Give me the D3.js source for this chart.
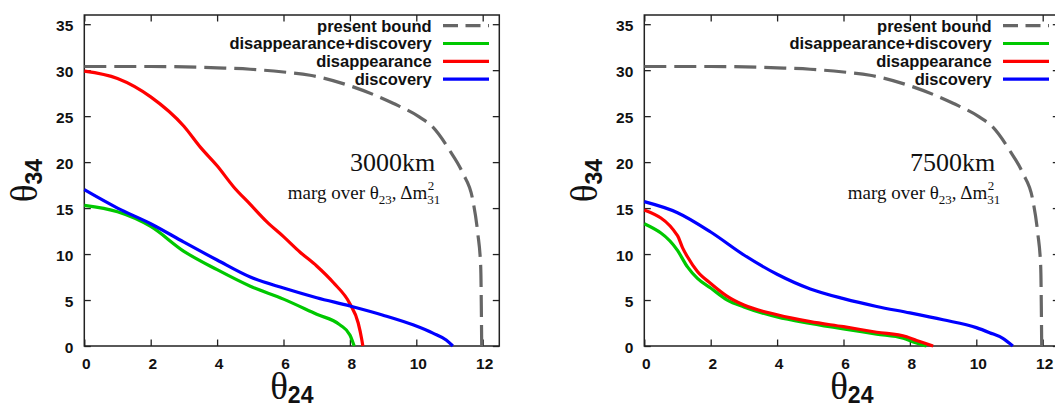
<!DOCTYPE html>
<html>
<head>
<meta charset="utf-8">
<script src="https://cdn.jsdelivr.net/npm/d3@7"></script>
<style>
  html, body { margin: 0; padding: 0; background: #fff; }
  svg { display: block; }
</style>
</head>
<body>
<svg id="chart" width="1055" height="405"></svg>
<script>
// ---------------- DATA ----------------
const xTicks = [0, 2, 4, 6, 8, 10, 12];
const yTicks = [0, 5, 10, 15, 20, 25, 30, 35];
const legendLabels = ["present bound", "disappearance+discovery", "disappearance", "discovery"];
const panelTitles = ["3000km", "7500km"];

// present bound (same in both panels): [theta24, theta34]
const presentBound = [[0,30.4],[2,30.4],[4,30.25],[5,30.1],[6,29.8],[6.8,29.45],[8,28.3],[9.3,26.4],[10.1,24.9],[10.5,23.8],[11.0,21.3],[11.4,18.8],[11.7,15.9],[11.85,12.3],[11.94,8.6],[11.97,0]];

// 3000 km
const combined3000 = [[0,15.3],[1,14.6],[2,13.0],[3,10.3],[4,8.3],[5,6.5],[6,5.1],[7,3.45],[7.7,2.3],[8.0,1.2],[8.1,0.3],[8.13,0]];
const disapp3000 = [[0,29.9],[1,29.1],[2,27.1],[3,23.9],[3.5,21.6],[4,19.6],[4.5,17.3],[5,15.4],[5.5,13.5],[6,11.9],[6.5,10.2],[7,8.7],[7.5,6.9],[8,4.6],[8.25,2.5],[8.36,0.65],[8.39,0]];
const disc3000 = [[0,17.0],[1,15.0],[2,13.3],[3,11.3],[4,9.35],[5,7.5],[6,6.3],[7,5.25],[8,4.35],[9,3.35],[9.9,2.3],[10.5,1.4],[10.9,0.65],[11.1,0]];

// 7500 km
const combined7500 = [[0,13.3],[1,10.4],[1.3,8.6],[1.6,7.35],[2,6.3],[2.5,5.0],[3,4.25],[4,3.15],[5,2.45],[6,1.85],[7,1.3],[7.8,0.85],[8.1,0.45],[8.5,0]];
const disapp7500 = [[0,14.8],[1,12.0],[1.15,10.7],[1.3,9.7],[1.6,8.1],[2,6.8],[2.5,5.4],[3,4.45],[4,3.4],[5,2.65],[6,2.1],[7,1.5],[7.9,1.0],[8.2,0.6],[8.7,0]];
const disc7500 = [[0,15.7],[1,14.5],[2,12.4],[3,9.9],[4,7.8],[5,6.2],[6,5.15],[7,4.3],[8,3.6],[9,2.85],[10,2.0],[10.4,1.45],[10.8,0.83],[11.1,0]];

// ---------------- STYLE ----------------
const colBound = "#666666", colGreen = "#00c800", colRed = "#ff0000", colBlue = "#0000ff";
const sansBold = "'Liberation Sans', Arial, Helvetica, sans-serif";
const serif = "'Liberation Serif', 'Times New Roman', serif";

const svg = d3.select("#chart");
svg.append("rect").attr("width", 1055).attr("height", 405).attr("fill", "#fff");

const panels = [
  { left: 84.3, title: panelTitles[0], series: [combined3000, disapp3000, disc3000] },
  { left: 644.3, title: panelTitles[1], series: [combined7500, disapp7500, disc7500] }
];
const plotW = 415, plotTop = 15, plotBottom = 346;

panels.forEach(p => {
  const x = d3.scaleLinear().domain([0, 12.5]).range([p.left, p.left + plotW]);
  const y = d3.scaleLinear().domain([0, 36]).range([plotBottom, plotTop]);
  const g = svg.append("g");

  // frame
  g.append("rect")
    .attr("x", x(0)).attr("y", y(36))
    .attr("width", x(12.5) - x(0)).attr("height", y(0) - y(36))
    .attr("fill", "none").attr("stroke", "#222").attr("stroke-width", 1.5);

  // axes with inward ticks
  const tl = 6.5;
  const xb = g.append("g").attr("transform", `translate(0,${plotBottom})`)
    .call(d3.axisBottom(x).tickValues(xTicks).tickSize(-tl).tickPadding(12));
  const xt = g.append("g").attr("transform", `translate(0,${plotTop})`)
    .call(d3.axisTop(x).tickValues(xTicks).tickSize(-tl).tickFormat(""));
  const yl = g.append("g").attr("transform", `translate(${p.left},0)`)
    .call(d3.axisLeft(y).tickValues(yTicks).tickSize(-tl).tickPadding(11));
  const yr = g.append("g").attr("transform", `translate(${p.left + plotW},0)`)
    .call(d3.axisRight(y).tickValues(yTicks).tickSize(-tl).tickFormat(""));
  [xb, xt, yl, yr].forEach(a => {
    a.select(".domain").remove();
    a.selectAll(".tick line").attr("stroke", "#222").attr("stroke-width", 1.3);
  });
  [xb, yl].forEach(a => a.selectAll(".tick text")
    .attr("font-family", sansBold).attr("font-weight", "bold")
    .attr("font-size", 15.5).attr("fill", "#111"));
  xb.selectAll(".tick text").attr("dx", 1.5);
  yl.selectAll(".tick text").attr("dy", "0.40em");

  const line = d3.line().curve(d3.curveMonotoneX).x(d => x(d[0])).y(d => y(d[1]));

  // present bound
  g.append("path").datum(presentBound).attr("d", line)
    .attr("fill", "none").attr("stroke", colBound).attr("stroke-width", 3.2)
    .attr("stroke-dasharray", "22,8");
  const cols = [colGreen, colRed, colBlue];
  p.series.forEach((s, i) => {
    g.append("path").datum(s).attr("d", line)
      .attr("fill", "none").attr("stroke", cols[i]).attr("stroke-width", 3.2)
      .attr("stroke-linejoin", "round");
  });

  // legend
  const legCols = [colBound, colGreen, colRed, colBlue];
  legendLabels.forEach((lab, i) => {
    const cy = plotTop + 10.7 + i * 17.8;
    g.append("text").attr("x", p.left + 347.4).attr("y", cy).attr("dy", "0.36em")
      .attr("text-anchor", "end").attr("font-family", sansBold).attr("font-weight", "bold")
      .attr("font-size", 16.5).attr("fill", "#111").text(lab);
    g.append("line").attr("x1", p.left + 358.7).attr("x2", p.left + 404.7)
      .attr("y1", cy).attr("y2", cy).attr("stroke", legCols[i]).attr("stroke-width", 3.2)
      .attr("stroke-dasharray", i === 0 ? "15,7.5" : null);
  });

  // annotation
  g.append("text").attr("x", p.left + 351).attr("y", 171)
    .attr("text-anchor", "end").attr("font-family", serif).attr("font-size", 26)
    .attr("fill", "#111").text(p.title);

  const ann = g.append("text").attr("x", 0).attr("y", 199)
    .attr("font-family", serif).attr("font-size", 19).attr("fill", "#111");
  ann.append("tspan").text("marg over θ");
  ann.append("tspan").attr("font-size", 13).attr("dy", 5).text("23");
  ann.append("tspan").attr("dy", -5).text(", Δm");
  const w1 = ann.node().getComputedTextLength();
  const sup = g.append("text").attr("y", 199 - 9).attr("font-family", serif)
    .attr("font-size", 13).attr("fill", "#111").text("2");
  const sub = g.append("text").attr("y", 199 + 5).attr("font-family", serif)
    .attr("font-size", 13).attr("fill", "#111").text("31");
  const w2 = sub.node().getComputedTextLength();
  const x0 = p.left + 356 - (w1 + w2);
  ann.attr("x", x0);
  sup.attr("x", x0 + w1 + 0.5);
  sub.attr("x", x0 + w1);

  // axis titles
  const xt2 = g.append("text").attr("x", 0).attr("y", 399).attr("fill", "#111");
  xt2.append("tspan").attr("font-family", serif).attr("font-size", 37).text("θ");
  xt2.append("tspan").attr("font-family", sansBold).attr("font-weight", "bold")
    .attr("font-size", 23).attr("dy", 4).text("24");
  const wx = xt2.node().getComputedTextLength();
  xt2.attr("x", (x(0) + x(12.5)) / 2 - wx / 2);

  const yt = g.append("text").attr("fill", "#111");
  yt.append("tspan").attr("font-family", serif).attr("font-size", 37).text("θ");
  yt.append("tspan").attr("font-family", sansBold).attr("font-weight", "bold")
    .attr("font-size", 23).attr("dy", 5).text("34");
  const wy = yt.node().getComputedTextLength();
  yt.attr("transform", `translate(${p.left - 47},${(plotTop + plotBottom) / 2 + wy / 2}) rotate(-90)`);
});
</script>
</body>
</html>
